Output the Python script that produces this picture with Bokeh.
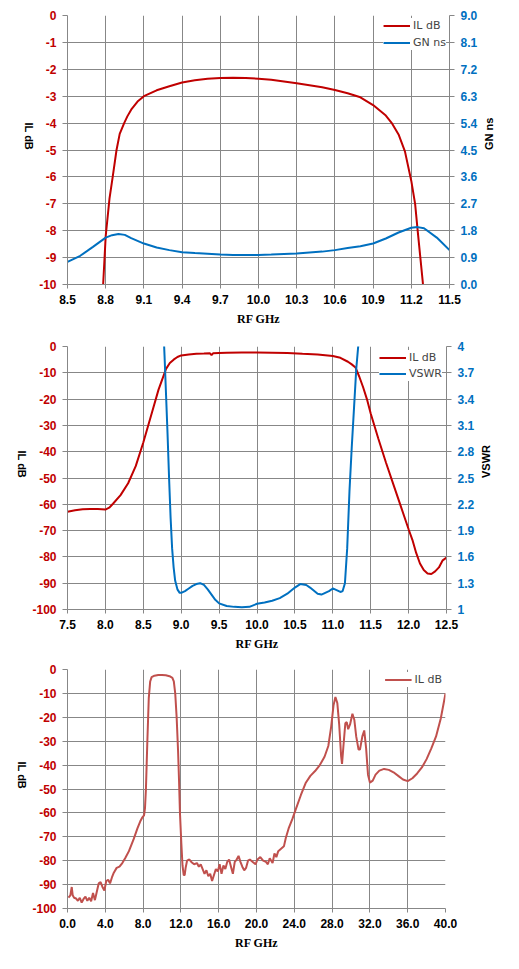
import math
from bokeh.plotting import figure
from bokeh.models import (Range1d, LinearAxis, FixedTicker, Legend, LegendItem,
                          PrintfTickFormatter)
from bokeh.layouts import column
from bokeh.embed import file_html
from bokeh.resources import INLINE

# ---------------- Chart 1 data ----------------
c1_il_freq = [8.775, 8.78, 8.80, 8.83, 8.855, 8.885, 8.91, 8.945, 8.97, 9.00, 9.05, 9.10,
              9.20, 9.30, 9.40, 9.50, 9.60, 9.70, 9.80, 9.90, 10.0, 10.1, 10.2, 10.3,
              10.4, 10.5, 10.6, 10.7, 10.8, 10.9, 11.0, 11.05, 11.1, 11.15, 11.2, 11.23,
              11.25, 11.29, 11.30]
c1_il = [-10.5, -10.0, -8.2, -6.8, -6.0, -5.0, -4.4, -4.0, -3.75, -3.5, -3.2, -3.0,
         -2.78, -2.63, -2.49, -2.41, -2.35, -2.32, -2.31, -2.32, -2.35, -2.39, -2.45, -2.52,
         -2.59, -2.67, -2.77, -2.89, -3.04, -3.33, -3.72, -4.02, -4.42, -5.05, -6.15, -7.0,
         -8.0, -9.9, -10.5]
c1_gn_freq = [8.5, 8.6, 8.7, 8.8, 8.85, 8.9, 8.95, 9.0, 9.1, 9.2, 9.3, 9.4, 9.5, 9.6, 9.7,
              9.8, 9.9, 10.0, 10.1, 10.2, 10.3, 10.4, 10.5, 10.6, 10.7, 10.8, 10.9, 11.0,
              11.1, 11.2, 11.25, 11.3, 11.4, 11.5]
c1_gn = [0.76, 0.96, 1.26, 1.57, 1.65, 1.69, 1.66, 1.55, 1.37, 1.24, 1.15, 1.08, 1.05, 1.03,
         1.00, 0.99, 0.99, 0.99, 1.00, 1.02, 1.04, 1.07, 1.10, 1.15, 1.22, 1.28, 1.37, 1.54,
         1.74, 1.90, 1.92, 1.88, 1.57, 1.15]
c1_x_ticks = [8.5, 8.8, 9.1, 9.4, 9.7, 10.0, 10.3, 10.6, 10.9, 11.2, 11.5]
c1_y_ticks = [0, -1, -2, -3, -4, -5, -6, -7, -8, -9, -10]
c1_r_ticks = [0.0, 0.9, 1.8, 2.7, 3.6, 4.5, 5.4, 6.3, 7.2, 8.1, 9.0]

# ---------------- Chart 2 data ----------------
c2_il_freq = [7.5, 7.6, 7.7, 7.8, 7.9, 8.0, 8.05, 8.1, 8.2, 8.3, 8.4, 8.5, 8.6, 8.7, 8.8,
              8.85, 8.9, 8.95, 9.0, 9.1, 9.2, 9.3, 9.38, 9.40, 9.42, 9.5, 9.6, 9.8, 10.0,
              10.2, 10.4, 10.6, 10.8, 10.9, 11.0, 11.1, 11.2, 11.25, 11.3, 11.35, 11.4,
              11.45, 11.5, 11.6, 11.7, 11.8, 11.9, 12.0, 12.05, 12.1, 12.15, 12.2, 12.25,
              12.3, 12.35, 12.4, 12.45, 12.5]
c2_il = [-62.8, -62.3, -61.9, -61.8, -61.8, -62.0, -61.3, -59.8, -56.5, -52.0, -45.5, -36.5,
         -26.5, -16.5, -8.5, -6.3, -5.0, -4.0, -3.4, -3.0, -2.8, -2.7, -2.6, -3.3, -2.6,
         -2.5, -2.4, -2.3, -2.3, -2.4, -2.5, -2.8, -3.0, -3.3, -3.6, -4.3, -5.8, -6.8,
         -8.0, -11.5, -15.5, -20.0, -25.5, -35.0, -44.0, -52.5, -61.0, -69.5, -73.5,
         -78.5, -82.5, -85.0, -86.3, -86.5, -85.5, -84.0, -81.3, -80.3]
c2_vswr_freq = [8.76, 8.78, 8.80, 8.82, 8.84, 8.86, 8.88, 8.90, 8.92, 8.95, 8.98, 9.0, 9.05,
                9.1, 9.15, 9.2, 9.25, 9.3, 9.35, 9.4, 9.45, 9.5, 9.6, 9.7, 9.8, 9.9, 10.0,
                10.1, 10.2, 10.3, 10.4, 10.5, 10.57, 10.65, 10.7, 10.8, 10.85, 10.9, 10.95,
                11.0, 11.05, 11.1, 11.13, 11.16, 11.19, 11.22, 11.25, 11.28, 11.31, 11.335,
                11.37]
c2_vswr = [4.3, 3.9, 3.45, 3.0, 2.5, 2.05, 1.7, 1.48, 1.33, 1.23, 1.19, 1.19, 1.21, 1.24,
           1.27, 1.29, 1.30, 1.28, 1.23, 1.17, 1.11, 1.07, 1.04, 1.03, 1.025, 1.03, 1.065,
           1.08, 1.10, 1.13, 1.18, 1.25, 1.29, 1.28, 1.25, 1.18, 1.17, 1.19, 1.21, 1.24,
           1.22, 1.20, 1.21, 1.30, 1.70, 2.35, 2.85, 3.30, 3.75, 4.0, 4.4]
c2_x_ticks = [7.5, 8.0, 8.5, 9.0, 9.5, 10.0, 10.5, 11.0, 11.5, 12.0, 12.5]
c2_y_ticks = [0, -10, -20, -30, -40, -50, -60, -70, -80, -90, -100]
c2_r_ticks = [1.0, 1.3, 1.6, 1.9, 2.2, 2.5, 2.8, 3.1, 3.4, 3.7, 4.0]
c2_r_labels = ["1", "1.3", "1.6", "1.9", "2.2", "2.5", "2.8", "3.1", "3.4", "3.7", "4"]

# ---------------- Chart 3 data ----------------
c3_freq = [0.1, 0.3, 0.45, 0.55, 0.7, 0.9, 1.1, 1.3, 1.5, 1.7, 1.9, 2.1, 2.3, 2.5, 2.7, 2.9,
           3.1, 3.3, 3.5, 3.7, 3.9, 4.1, 4.3, 4.5, 4.7, 4.9, 5.2, 5.5, 5.8, 6.1, 6.5, 7.0,
           7.4, 7.7, 7.9, 8.1, 8.2, 8.3, 8.45, 8.6, 8.75, 8.9, 9.2, 9.6, 10.0, 10.4, 10.8,
           11.1, 11.25, 11.4, 11.55, 11.7, 11.8, 11.9, 12.05, 12.17, 12.3, 12.4, 12.5, 12.65,
           12.9, 13.1, 13.4, 13.7, 13.9, 14.1, 14.3, 14.5, 14.7, 14.9, 15.1, 15.3, 15.5,
           15.7, 15.9, 16.1, 16.3, 16.5, 16.7, 16.9, 17.1, 17.3, 17.5, 17.7, 17.9, 18.1,
           18.3, 18.5, 18.7, 18.9, 19.1, 19.3, 19.6, 19.9, 20.1, 20.4, 20.7, 21.0, 21.2,
           21.4, 21.7, 21.9, 22.1, 22.3, 22.6, 22.9, 23.1, 23.4, 23.8, 24.2, 24.7, 25.2,
           25.7, 26.2, 26.7, 27.2, 27.6, 27.9, 28.15, 28.35, 28.55, 28.75, 28.95, 29.05,
           29.2, 29.4, 29.55, 29.7, 29.9, 30.15, 30.35, 30.55, 30.8, 30.95, 31.2, 31.4,
           31.6, 31.8, 32.0, 32.3, 32.6, 33.0, 33.5, 34.0, 34.5, 35.0, 35.5, 36.0, 36.5,
           37.0, 37.5, 38.0, 38.5, 39.0, 39.5, 40.0]
c3_il = [-95.5, -94.5, -91.0, -94.5, -95.5, -95.8, -96.8, -95.5, -97.5, -96.0, -95.0, -96.8,
         -95.5, -97.0, -93.5, -96.5, -93.0, -89.5, -89.0, -91.0, -92.5, -88.5, -88.0, -89.5,
         -87.0, -85.0, -83.0, -82.5, -81.0, -79.0, -76.0, -71.0, -66.5, -63.5, -62.0, -61.0,
         -58.0, -50.0, -30.0, -12.0, -5.0, -3.2, -2.6, -2.3, -2.3, -2.4, -2.8, -3.5, -5.0,
         -10.0, -20.0, -34.0, -46.0, -60.0, -73.0, -82.0, -86.0, -86.0, -83.0, -80.0, -79.5,
         -80.5, -81.5, -81.0, -82.5, -81.5, -83.5, -85.5, -84.0, -86.5, -85.5, -88.5, -86.0,
         -83.5, -84.5, -81.5, -85.5, -82.0, -83.5, -80.5, -79.5, -82.5, -85.5, -80.5, -79.5,
         -78.0, -80.5, -82.5, -84.0, -83.0, -80.0, -79.5, -80.5, -81.5, -79.5, -78.5, -80.0,
         -80.5, -81.5, -79.0, -81.0, -77.0, -78.5, -76.0, -75.0, -74.0, -70.5, -66.5, -62.5,
         -58.0, -52.5, -47.5, -44.5, -42.5, -40.0, -36.5, -32.0, -24.0, -15.0, -11.5, -14.0,
         -23.0, -36.0, -39.5, -32.0, -22.5, -22.0, -25.0, -23.0, -18.5, -21.0, -28.0, -33.5,
         -33.5, -28.0, -25.5, -33.0, -44.0, -47.3, -46.5, -44.0, -42.3, -41.6, -42.0, -43.0,
         -44.5, -46.0, -46.7, -45.5, -43.5, -41.0, -37.5, -33.0, -28.0, -20.5, -10.0]
c3_x_ticks = [0, 4, 8, 12, 16, 20, 24, 28, 32, 36, 40]
c3_y_ticks = [0, -10, -20, -30, -40, -50, -60, -70, -80, -90, -100]

# ---------------- styles ----------------
RED = "#C00000"
BLUE = "#0070C0"
RED3 = "#C0504D"
GRID = "#878787"
TICK_FONT = "Liberation Sans"
TITLE_FONT = "Liberation Sans"
X_TITLE_FONT = "Liberation Serif"
LEG_FONT = "DejaVu Sans"


def style_axis(ax, label_color):
    ax.axis_line_color = GRID
    ax.major_tick_line_color = GRID
    ax.major_tick_out = 5
    ax.major_tick_in = 0
    ax.minor_tick_line_color = None
    ax.major_label_text_font = TICK_FONT
    ax.major_label_text_font_style = "bold"
    ax.major_label_text_font_size = "12px"
    ax.major_label_text_color = label_color
    ax.major_label_standoff = 6
    ax.axis_label_text_font = TITLE_FONT
    ax.axis_label_text_font_style = "bold"
    ax.axis_label_text_font_size = "11px"
    ax.axis_label_text_color = "black"


def make_fig(xr, yr, xticks, yticks, fw, fh, bl, bt, bb):
    p = figure(x_range=Range1d(*xr), y_range=Range1d(*yr), frame_width=fw, frame_height=fh,
               min_border_left=bl, min_border_right=55, min_border_top=bt,
               min_border_bottom=bb, toolbar_location=None, output_backend="svg",
               outline_line_color=None)
    p.xaxis.ticker = FixedTicker(ticks=xticks)
    p.yaxis.ticker = FixedTicker(ticks=yticks)
    p.xaxis.formatter = PrintfTickFormatter(format="%.1f")
    p.yaxis.formatter = PrintfTickFormatter(format="%d")
    style_axis(p.xaxis[0], "black")
    style_axis(p.yaxis[0], RED)
    p.xaxis.axis_label = "RF GHz"
    p.xaxis.axis_label_text_font = X_TITLE_FONT
    p.xaxis.axis_label_text_font_size = "12px"
    p.xaxis.axis_label_standoff = 5
    p.xaxis.major_tick_out = 4
    p.yaxis.axis_label = "IL dB"
    p.yaxis.axis_label_orientation = -math.pi / 2
    p.yaxis.axis_label_standoff = 7
    p.xgrid.grid_line_color = GRID
    p.ygrid.grid_line_color = GRID
    return p


def add_right(p, name, rng, ticks, label):
    p.extra_y_ranges = {name: Range1d(*rng)}
    ax = LinearAxis(y_range_name=name, ticker=FixedTicker(ticks=ticks))
    style_axis(ax, BLUE)
    ax.axis_label = label
    ax.axis_label_orientation = math.pi / 2
    ax.axis_label_standoff = 9
    p.add_layout(ax, "right")
    return ax


def add_legend(p, items, margin, padding, spacing):
    leg = Legend(items=items, location="top_right", margin=margin, padding=padding,
                 spacing=spacing, glyph_width=27, glyph_height=15, label_height=15,
                 label_standoff=3, label_text_font=LEG_FONT, label_text_font_size="11px",
                 background_fill_color="white", background_fill_alpha=1.0,
                 border_line_color=None)
    p.add_layout(leg)


# ---------- Chart 1 ----------
p1 = make_fig((8.5, 11.5), (-10, 0), c1_x_ticks, c1_y_ticks, 382, 269, 63, 15, 54)
ax1 = add_right(p1, "gn", (0, 9), c1_r_ticks, "GN ns")
ax1.formatter = PrintfTickFormatter(format="%.1f")
r11 = p1.line(c1_il_freq, c1_il, line_color=RED, line_width=2)
r12 = p1.line(c1_gn_freq, c1_gn, line_color=BLUE, line_width=2, y_range_name="gn")
add_legend(p1, [LegendItem(label="IL dB", renderers=[r11]),
                LegendItem(label="GN ns", renderers=[r12])], 3, 3, 2)

# ---------- Chart 2 ----------
p2 = make_fig((7.5, 12.5), (-100, 0), c2_x_ticks, c2_y_ticks, 379, 263, 66, 8, 52)
ax2 = add_right(p2, "vswr", (1, 4), c2_r_ticks, "VSWR")
ax2.major_label_overrides = dict(zip(c2_r_ticks, c2_r_labels))
r21 = p2.line(c2_il_freq, c2_il, line_color=RED, line_width=2)
r22 = p2.line(c2_vswr_freq, c2_vswr, line_color=BLUE, line_width=2, y_range_name="vswr")
add_legend(p2, [LegendItem(label="IL dB", renderers=[r21]),
                LegendItem(label="VSWR", renderers=[r22])], 4, 4, 1)

# ---------- Chart 3 ----------
p3 = make_fig((0, 40), (-100, 0), c3_x_ticks, c3_y_ticks, 378, 239, 67, 8, 45)
r31 = p3.line(c3_freq, c3_il, line_color=RED3, line_width=2)
add_legend(p3, [LegendItem(label="IL dB", renderers=[r31])], 3, 3, 2)

layout = column(p1, p2, p3, spacing=0)
open("out.html", "w").write(file_html(layout, INLINE))
